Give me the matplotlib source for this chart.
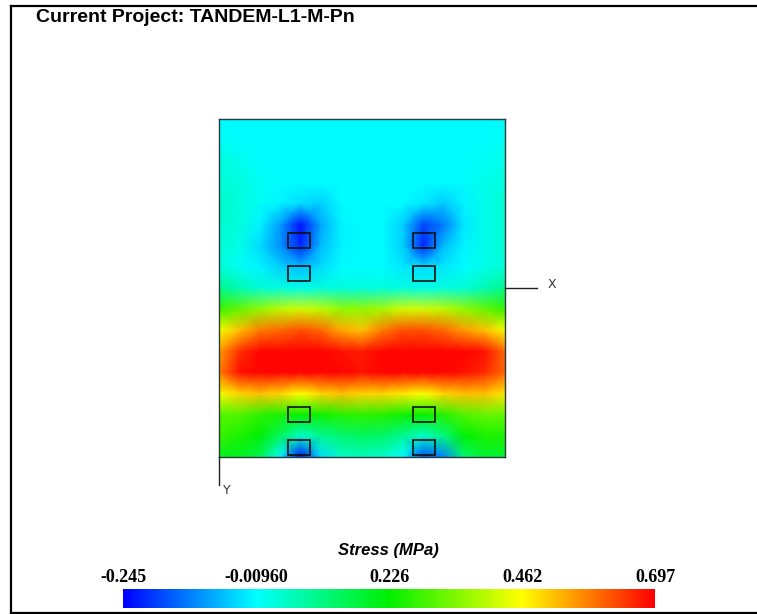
import numpy as np
import matplotlib
matplotlib.use('Agg')
import matplotlib.pyplot as plt
from matplotlib.colors import LinearSegmentedColormap
from matplotlib.patches import Rectangle
from matplotlib.lines import Line2D

project = 'TANDEM-L1-M-Pn'

# plate size (same units as the pad coordinates)
plate_w = 286
plate_h = 338

# stress at the mesh nodes, rows from top edge to bottom edge, 15 nodes per row
stress = [
    [-0.01, -0.01, -0.01, -0.01, -0.01, -0.01, -0.01, -0.01, -0.01, -0.01, -0.01, -0.01, -0.01, -0.01, -0.01],
    [0.00, -0.01, -0.01, -0.01, -0.01, -0.01, -0.01, -0.01, -0.01, -0.01, -0.01, -0.01, -0.01, -0.01, 0.00],
    [0.02, 0.01, -0.01, -0.01, -0.01, -0.01, -0.01, -0.01, -0.01, -0.01, -0.01, -0.01, -0.01, 0.00, 0.01],
    [0.03, 0.02, 0.00, -0.01, -0.01, -0.01, -0.01, -0.01, -0.01, -0.01, -0.01, -0.01, -0.01, 0.01, 0.02],
    [0.04, 0.02, 0.00, -0.02, -0.04, -0.05, -0.01, -0.01, -0.01, -0.01, -0.03, -0.06, -0.02, 0.01, 0.03],
    [0.04, 0.02, -0.02, -0.10, -0.23, -0.09, -0.02, -0.01, -0.01, -0.05, -0.18, -0.13, -0.03, 0.01, 0.03],
    [0.03, 0.01, -0.04, -0.11, -0.21, -0.07, -0.02, -0.01, -0.01, -0.05, -0.21, -0.07, -0.02, 0.01, 0.03],
    [0.03, 0.00, -0.02, -0.05, -0.07, -0.04, -0.01, -0.01, -0.01, -0.03, -0.04, -0.03, -0.01, 0.01, 0.03],
    [0.10, 0.06, 0.03, 0.02, 0.01, 0.02, 0.02, 0.02, 0.02, 0.02, 0.01, 0.02, 0.03, 0.06, 0.10],
    [0.28, 0.32, 0.36, 0.40, 0.42, 0.40, 0.36, 0.36, 0.38, 0.42, 0.42, 0.40, 0.36, 0.32, 0.28],
    [0.45, 0.52, 0.58, 0.60, 0.62, 0.60, 0.54, 0.52, 0.58, 0.62, 0.62, 0.60, 0.55, 0.52, 0.45],
    [0.55, 0.65, 0.69, 0.69, 0.69, 0.69, 0.68, 0.67, 0.69, 0.69, 0.69, 0.69, 0.69, 0.68, 0.60],
    [0.58, 0.68, 0.69, 0.69, 0.69, 0.69, 0.69, 0.68, 0.69, 0.69, 0.69, 0.69, 0.68, 0.66, 0.60],
    [0.45, 0.50, 0.52, 0.50, 0.46, 0.50, 0.52, 0.50, 0.50, 0.48, 0.46, 0.50, 0.52, 0.52, 0.48],
    [0.30, 0.30, 0.27, 0.25, 0.23, 0.24, 0.26, 0.27, 0.26, 0.24, 0.23, 0.26, 0.30, 0.32, 0.32],
    [0.28, 0.25, 0.22, 0.14, 0.04, 0.09, 0.12, 0.14, 0.13, 0.09, 0.04, 0.11, 0.22, 0.25, 0.25],
    [0.20, 0.20, 0.15, -0.02, -0.23, -0.04, 0.04, 0.05, 0.04, -0.01, -0.17, -0.12, 0.12, 0.18, 0.18],
]

# pads: left x, top y, width, height
pads_x = [69, 194]
pads_y = [114, 147, 288, 321]
pad_w = 22
pad_h = 15

scale_ticks = [-0.245, -0.0096, 0.226, 0.462, 0.697]
scale_labels = ['-0.245', '-0.00960', '0.226', '0.462', '0.697']

W, H = 757, 614
fig = plt.figure(figsize=(W / 100, H / 100), dpi=100)
fig.patch.set_facecolor('white')

def px_axes(x0, y0, x1, y1):
    return fig.add_axes([x0 / W, 1 - y1 / H, (x1 - x0) / W, (y1 - y0) / H])

cmap = LinearSegmentedColormap.from_list(
    'stress', ['#0000ff', '#00ffff', '#00f000', '#ffff00', '#ff0000'])

ax = px_axes(219, 119, 505, 457)
z = np.array(stress)
xs = np.linspace(0, plate_w, z.shape[1])
ys = np.linspace(0, plate_h, z.shape[0])
mesh = ax.pcolormesh(xs, ys, z, shading='gouraud', cmap=cmap,
                     vmin=scale_ticks[0], vmax=scale_ticks[-1])
for px in pads_x:
    for py in pads_y:
        ax.add_patch(Rectangle((px, py), pad_w, pad_h, fill=False,
                               edgecolor='#111111', linewidth=1.2))
ax.set_xlim(0, plate_w)
ax.set_ylim(plate_h, 0)
ax.set_xticks([])
ax.set_yticks([])
for s in ax.spines.values():
    s.set_color('#2a3a3a')
    s.set_linewidth(1)

# axis indicators
fig.add_artist(Line2D([505 / W, 537 / W], [1 - 288 / H, 1 - 288 / H],
                      color='#222222', linewidth=1))
fig.text(552 / W, 1 - 284 / H, 'X', fontsize=9, color='#333333',
         ha='center', va='center')
fig.add_artist(Line2D([219 / W, 219 / W], [1 - 457 / H, 1 - 485 / H],
                      color='#222222', linewidth=1))
fig.text(227 / W, 1 - 491 / H, 'Y', fontsize=9, color='#333333',
         ha='center', va='center')

# colour scale
cax = px_axes(123, 589, 655, 608)
cb = fig.colorbar(mesh, cax=cax, orientation='horizontal')
cb.outline.set_visible(False)
cb.set_ticks(scale_ticks)
cb.set_ticklabels(scale_labels)
cax.xaxis.set_ticks_position('top')
cax.tick_params(length=0, pad=2)
for t in cax.get_xticklabels():
    t.set_fontfamily('Liberation Serif')
    t.set_fontweight('bold')
    t.set_fontsize(13)
fig.text(388 / W, 1 - 550 / H, 'Stress (MPa)', fontsize=12, fontweight='bold',
         fontstyle='italic', family='Liberation Sans', ha='center', va='center')

fig.text(36 / W, 1 - 18 / H, 'Current Project: ' + project, fontsize=14,
         fontweight='bold', family='Liberation Sans', ha='left', va='center')

# frame
fig.add_artist(Line2D([11 / W, 11 / W], [1 - 6 / H, 1 - 612.5 / H],
                      color='black', linewidth=1.6))
fig.add_artist(Line2D([11 / W, 1], [1 - 6 / H, 1 - 6 / H],
                      color='black', linewidth=1.6))
fig.add_artist(Line2D([11 / W, 1], [1 - 612.5 / H, 1 - 612.5 / H],
                      color='black', linewidth=1.6))

fig.savefig('out.png', dpi=100)
